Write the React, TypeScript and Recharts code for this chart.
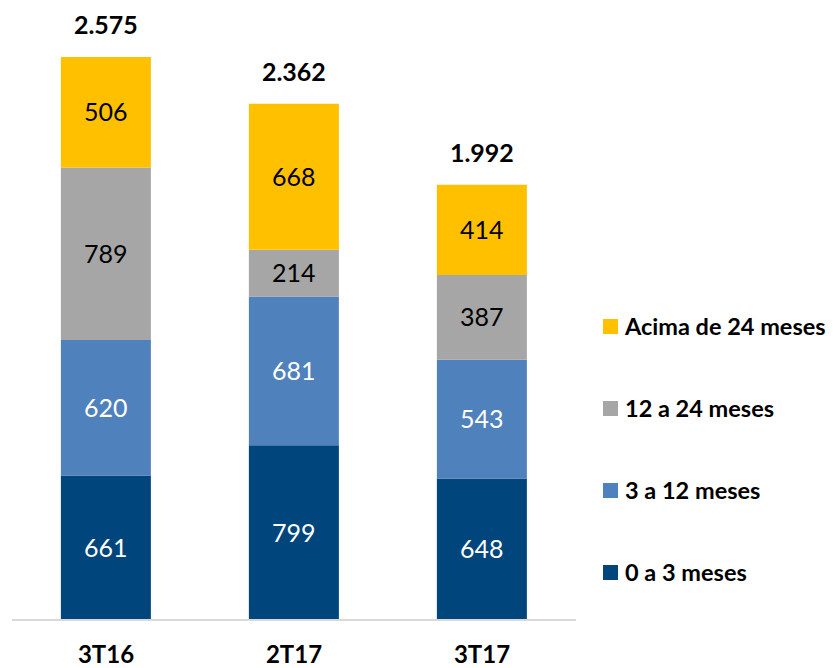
import { BarChart, Bar, XAxis, YAxis, LabelList } from "recharts";

const categories = ["3T16", "2T17", "3T17"];
const ate3Meses = [661, 799, 648];
const de3a12 = [620, 681, 543];
const de12a24 = [789, 214, 387];
const acima24 = [506, 668, 414];
const totals = [2575, 2362, 1992];

const SERIES = [
  { key: "a", name: "0 a 3 meses", color: "#00457C", text: "#ffffff", values: ate3Meses },
  { key: "b", name: "3 a 12 meses", color: "#4F81BD", text: "#ffffff", values: de3a12 },
  { key: "c", name: "12 a 24 meses", color: "#A6A6A6", text: "#000000", values: de12a24 },
  { key: "d", name: "Acima de 24 meses", color: "#FFC000", text: "#000000", values: acima24 },
];

const FONT = "Lato, 'Open Sans', sans-serif";

const fmt = (v: number) => {
  const s = String(Math.round(v));
  return s.replace(/\B(?=(\d{3})+(?!\d))/g, ".");
};

const data = categories.map((cat, i) => {
  const row: Record<string, string | number> = { cat, total: totals[i] };
  SERIES.forEach((s) => {
    row[s.key] = s.values[i];
  });
  return row;
});

const CatTick = ({ x, y, payload }: { x?: number; y?: number; payload?: { value: string } }) => (
  <text
    x={x}
    y={(y ?? 0) + 35}
    textAnchor="middle"
    fontFamily={FONT}
    fontWeight={700}
    fontSize={24}
    fill="#000"
  >
    {payload?.value}
  </text>
);

export default function App() {
  return (
    <div style={{ position: "absolute", left: 0, top: 0, width: 839, height: 668, background: "#fff" }}>
      <BarChart
        width={839}
        height={668}
        data={data}
        margin={{ top: 57, right: 263, bottom: 0, left: 12 }}
        barCategoryGap="26%"
      >
        <XAxis
          dataKey="cat"
          height={48}
          tickLine={false}
          axisLine={{ stroke: "#D9D9D9", strokeWidth: 2 }}
          tick={<CatTick />}
        />
        <YAxis hide domain={[0, 2576]} />
        {SERIES.map((s, idx) => (
          <Bar key={s.key} dataKey={s.key} stackId="1" fill={s.color} isAnimationActive={false}>
            <LabelList
              dataKey={s.key}
              position="center"
              fill={s.text}
              fontFamily={FONT}
              fontSize={25}
            />
            {idx === SERIES.length - 1 && (
              <LabelList
                dataKey="total"
                position="top"
                offset={23}
                formatter={(v: unknown) => fmt(Number(v))}
                fill="#000"
                fontFamily={FONT}
                fontWeight={700}
                fontSize={25}
              />
            )}
          </Bar>
        ))}
      </BarChart>

      {/* Legend */}
      <div style={{ position: "absolute", left: 603, top: 312 }}>
        {[...SERIES].reverse().map((s) => (
          <div
            key={s.key}
            style={{ display: "flex", alignItems: "center", height: 28, marginBottom: 54 }}
          >
            <div style={{ width: 15, height: 15, background: s.color, marginRight: 7 }} />
            <span style={{ fontFamily: FONT, fontWeight: 700, fontSize: 23.5, color: "#000" }}>
              {s.name}
            </span>
          </div>
        ))}
      </div>
    </div>
  );
}
